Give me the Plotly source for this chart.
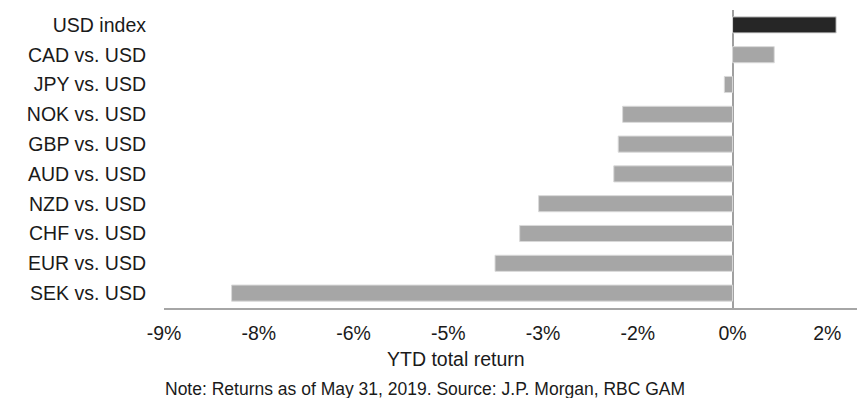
import plotly.graph_objects as go

categories = ["USD index", "CAD vs. USD", "JPY vs. USD", "NOK vs. USD", "GBP vs. USD",
              "AUD vs. USD", "NZD vs. USD", "CHF vs. USD", "EUR vs. USD", "SEK vs. USD"]
ytd_return = [1.64, 0.66, -0.13, -1.74, -1.81, -1.88, -3.07, -3.37, -3.76, -7.93]
bar_colors = ["#262626"] + ["#a6a6a6"] * 9

tick_vals = [-9, -7.5, -6, -4.5, -3, -1.5, 0, 1.5]
tick_text = ["-9%", "-8%", "-6%", "-5%", "-3%", "-2%", "0%", "2%"]

FONT = "Liberation Sans, Arial, sans-serif"
TXT = "#1a1a1a"

fig = go.Figure(go.Bar(
    x=ytd_return, y=categories, orientation="h",
    marker=dict(color=bar_colors, line=dict(color="#d9d9d9", width=1)),
    hoverinfo="x+y",
))

fig.update_layout(
    width=857, height=398,
    margin=dict(l=164, r=0, t=10, b=90, autoexpand=False),
    paper_bgcolor="white", plot_bgcolor="white",
    showlegend=False,
    bargap=0.46,
    font=dict(family=FONT, color=TXT, size=19.5),
)
fig.update_xaxes(
    range=[-9, 1.97], tickvals=tick_vals, ticktext=tick_text,
    showgrid=False, zeroline=True, zerolinecolor="#a0a0a0", zerolinewidth=1.5,
    showline=True, linecolor="#a6a6a6", linewidth=1.5,
    ticks="", ticklabelstandoff=7, automargin=False,
    tickfont=dict(size=19.5, family=FONT, color=TXT),
)
fig.update_yaxes(
    autorange="reversed", showgrid=False, showline=False, zeroline=False,
    ticks="", ticklabelstandoff=17, automargin=False,
    tickfont=dict(size=19.5, family=FONT, color=TXT),
)
fig.add_annotation(text="YTD total return", xref="paper", yref="paper",
                   x=0.421, y=0, yshift=-50.5, xanchor="center", yanchor="middle",
                   showarrow=False, font=dict(size=19.5, family=FONT, color=TXT))
fig.add_annotation(text="Note: Returns as of May 31, 2019. Source: J.P. Morgan, RBC GAM",
                   xref="paper", yref="paper",
                   x=0.3766, y=0, yshift=-81, xanchor="center", yanchor="middle",
                   showarrow=False, font=dict(size=17.5, family=FONT, color=TXT))

fig.write_html("out.html", config={"displayModeBar": False},
               post_script="document.body.style.margin='0';document.body.style.overflow='hidden';")
